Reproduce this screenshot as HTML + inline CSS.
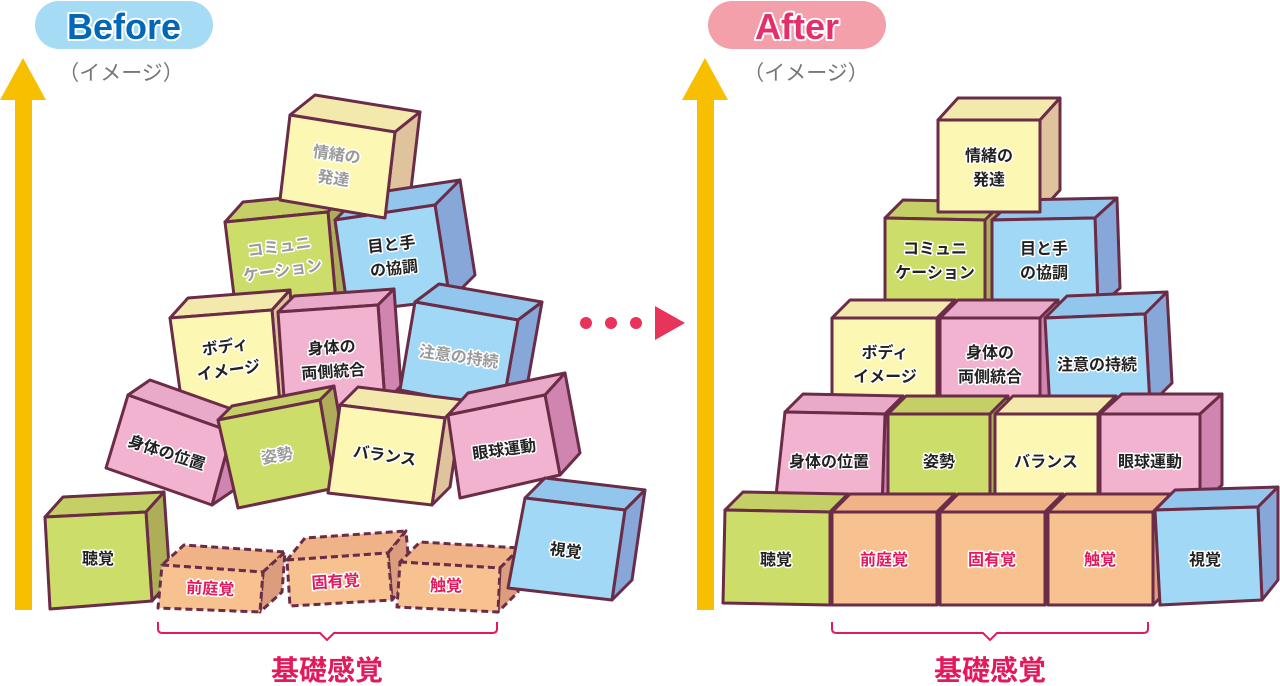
<!DOCTYPE html>
<html><head><meta charset="utf-8"><style>
html,body{margin:0;padding:0;background:#fff;width:1280px;height:686px;overflow:hidden}
svg{display:block}
polygon{stroke:#6b2c47;stroke-width:3;stroke-linejoin:round}
.y .f{fill:#fdf7b4}.y .t{fill:#f3e9ad}.y .r{fill:#dfc39c}
.g .f{fill:#cddd69}.g .t{fill:#c4d065}.g .r{fill:#aeae58}
.b .f{fill:#a0d8f5}.b .t{fill:#92c6ec}.b .r{fill:#86a7d8}
.p .f{fill:#f2b3d0}.p .t{fill:#e9a9c8}.p .r{fill:#cf85b0}
.o .f{fill:#f7c290}.o .t{fill:#f0b388}.o .r{fill:#dc9c7e}
.d polygon{stroke-dasharray:7 4}
text{font-family:"Liberation Sans","Noto Sans CJK JP",sans-serif;font-weight:bold;text-anchor:middle;paint-order:stroke;stroke:#fff;stroke-width:3px;stroke-linejoin:round}
.l{font-size:16px;fill:#222}
.gr{fill:#9a9a9a}
.rd{fill:#e2195a}
</style></head><body>
<svg width="1280" height="686" viewBox="0 0 1280 686" xmlns="http://www.w3.org/2000/svg">
<!-- headers -->
<rect x="35" y="1" width="178" height="48" rx="24" fill="#a6dbf5"/>
<text x="124" y="39" style="font-size:36px;fill:#0068b7;stroke-width:4px">Before</text>
<text x="121" y="80" style="font-size:21px;fill:#777;stroke:none;font-weight:normal">（イメージ）</text>
<rect x="708" y="1" width="178" height="48" rx="24" fill="#f3a0aa"/>
<text x="797" y="39" style="font-size:36px;fill:#e4306a;stroke-width:4px">After</text>
<text x="806" y="80" style="font-size:21px;fill:#777;stroke:none;font-weight:normal">（イメージ）</text>
<!-- arrows -->
<rect x="15" y="95" width="17" height="515" fill="#f8bf00"/>
<polygon points="23,58 0,100 46,100" fill="#f8bf00" style="stroke:none"/>
<rect x="697" y="95" width="17" height="515" fill="#f8bf00"/>
<polygon points="705,58 682,100 728,100" fill="#f8bf00" style="stroke:none"/>
<circle cx="586" cy="323" r="6" fill="#e8335a"/><circle cx="611" cy="323" r="6" fill="#e8335a"/><circle cx="636" cy="323" r="6" fill="#e8335a"/>
<polygon points="655,306 685,323 655,340" fill="#e8335a" style="stroke:none"/>

<!-- BEFORE cubes -->
<g class="y"><polygon class="t" points="290,115 395,132 420,112 315,95"/><polygon class="r" points="395,132 420,112 410,198 385,218"/></g>
<g class="g"><polygon class="t" points="225,222 328,212 346,192 243,202"/><polygon class="r" points="328,212 346,192 354,282 336,302"/><polygon class="f" points="225,222 328,212 336,302 236,312"/></g>
<g class="b"><polygon class="t" points="335,220 435,205 460,180 360,195"/><polygon class="r" points="435,205 460,180 475,275 450,300"/><polygon class="f" points="335,220 435,205 450,300 348,312"/></g>
<g class="y"><polygon class="f" points="290,115 395,132 385,218 280,200"/></g>
<g class="y"><polygon class="t" points="170,318 272,310 290,290 188,298"/><polygon class="r" points="272,310 290,290 298,385 280,405"/><polygon class="f" points="170,318 272,310 280,405 183,412"/></g>
<g class="p"><polygon class="t" points="278,312 378,305 394,289 294,296"/><polygon class="r" points="378,305 394,289 401,386 385,402"/><polygon class="f" points="278,312 378,305 385,402 285,412"/></g>
<g class="b"><polygon class="t" points="415,302 518,320 542,302 439,284"/><polygon class="r" points="518,320 542,302 526,392 502,410"/><polygon class="f" points="415,302 518,320 502,410 400,390"/></g>
<g class="p"><polygon class="t" points="128,395 232,432 254,417 150,380"/><polygon class="r" points="232,432 254,417 234,490 212,505"/><polygon class="f" points="128,395 232,432 212,505 106,468"/></g>
<g class="g"><polygon class="t" points="218,420 320,400 334,386 232,406"/><polygon class="r" points="320,400 334,386 349,474 335,488"/><polygon class="f" points="218,420 320,400 335,488 238,508"/></g>
<g class="y"><polygon class="t" points="340,405 445,418 463,400 358,387"/><polygon class="r" points="445,418 463,400 450,487 432,505"/><polygon class="f" points="340,405 445,418 432,505 328,493"/></g>
<g class="p"><polygon class="t" points="448,415 545,395 565,373 468,393"/><polygon class="r" points="545,395 565,373 580,453 560,475"/><polygon class="f" points="448,415 545,395 560,475 460,498"/></g>
<g class="g"><polygon class="t" points="45,517 146,512 164,492 63,497"/><polygon class="r" points="146,512 164,492 170,581 152,601"/><polygon class="f" points="45,517 146,512 152,601 50,609"/></g>
<g class="o d"><polygon class="t" points="162,565 263,572 285,552 184,545"/><polygon class="r" points="263,572 285,552 282,592 260,612"/><polygon class="f" points="162,565 263,572 260,612 158,608"/></g>
<g class="o d"><polygon class="t" points="287,560 388,553 406,531 305,538"/><polygon class="r" points="388,553 406,531 410,578 392,600"/><polygon class="f" points="287,560 388,553 392,600 290,606"/></g>
<g class="o d"><polygon class="t" points="400,562 500,568 520,548 420,542"/><polygon class="r" points="500,568 520,548 518,592 498,612"/><polygon class="f" points="400,562 500,568 498,612 397,607"/></g>
<g class="b"><polygon class="t" points="525,498 625,510 645,490 545,478"/><polygon class="r" points="625,510 645,490 632,580 612,600"/><polygon class="f" points="525,498 625,510 612,600 508,588"/></g>

<!-- BEFORE labels -->
<text class="l gr" transform="translate(336,160) rotate(8)">情緒の<tspan x="0" dy="24">発達</tspan></text>
<text class="l gr" transform="translate(280,252) rotate(-8)">コミュニ<tspan x="0" dy="24">ケーション</tspan></text>
<text class="l" transform="translate(392,250) rotate(-6)">目と手<tspan x="0" dy="24">の協調</tspan></text>
<text class="l" transform="translate(226,352) rotate(-8)">ボディ<tspan x="0" dy="24">イメージ</tspan></text>
<text class="l" transform="translate(332,353) rotate(-4)">身体の<tspan x="0" dy="24">両側統合</tspan></text>
<text class="l gr" transform="translate(458,362) rotate(8)">注意の持続</text>
<text class="l" transform="translate(165,458) rotate(18)">身体の位置</text>
<text class="l gr" transform="translate(278,461) rotate(-10)">姿勢</text>
<text class="l" transform="translate(384,461) rotate(8)">バランス</text>
<text class="l" transform="translate(505,455) rotate(-8)">眼球運動</text>
<text class="l" x="98" y="564">聴覚</text>
<text class="l rd" transform="translate(210,594) rotate(3)">前庭覚</text>
<text class="l rd" transform="translate(336,587) rotate(-4)">固有覚</text>
<text class="l rd" x="446" y="591">触覚</text>
<text class="l" transform="translate(565,556) rotate(7)">視覚</text>

<!-- AFTER cubes (back to front) -->
<g class="y"><polygon class="t" points="938,120 1040,120 1060,98 958,98"/><polygon class="r" points="1040,120 1060,98 1060,190 1040,212"/></g>
<g class="g"><polygon class="t" points="885,218 985,220 1003,202 903,200"/><polygon class="r" points="985,220 1003,202 1003,292 985,310"/><polygon class="f" points="885,218 985,220 985,310 885,310"/></g>
<g class="b"><polygon class="t" points="992,220 1095,218 1117,198 1014,200"/><polygon class="r" points="1095,218 1117,198 1120,288 1098,308"/><polygon class="f" points="992,220 1095,218 1098,308 992,310"/></g>
<g class="y"><polygon class="f" points="938,120 1040,120 1040,212 938,212"/></g>
<g class="y"><polygon class="t" points="832,318 937,318 955,300 850,300"/><polygon class="r" points="937,318 955,300 955,392 937,410"/><polygon class="f" points="832,318 937,318 937,410 832,410"/></g>
<g class="p"><polygon class="t" points="940,318 1040,318 1058,300 958,300"/><polygon class="r" points="1040,318 1058,300 1058,392 1040,410"/><polygon class="f" points="940,318 1040,318 1040,410 940,410"/></g>
<g class="b"><polygon class="t" points="1045,318 1145,314 1167,292 1067,296"/><polygon class="r" points="1145,314 1167,292 1172,383 1150,405"/><polygon class="f" points="1045,318 1145,314 1150,405 1050,410"/></g>
<g class="p"><polygon class="t" points="785,412 885,414 903,396 803,394"/><polygon class="r" points="885,414 903,396 900,490 882,508"/><polygon class="f" points="785,412 885,414 882,508 775,505"/></g>
<g class="g"><polygon class="t" points="888,414 990,414 1008,396 906,396"/><polygon class="r" points="990,414 1008,396 1008,487 990,505"/><polygon class="f" points="888,414 990,414 990,505 888,505"/></g>
<g class="y"><polygon class="t" points="995,414 1098,414 1116,396 1013,396"/><polygon class="r" points="1098,414 1116,396 1116,487 1098,505"/><polygon class="f" points="995,414 1098,414 1098,505 995,505"/></g>
<g class="p"><polygon class="t" points="1100,414 1200,414 1222,394 1122,394"/><polygon class="r" points="1200,414 1222,394 1222,485 1200,505"/><polygon class="f" points="1100,414 1200,414 1200,505 1100,505"/></g>
<g class="g"><polygon class="t" points="725,510 830,512 848,494 743,492"/><polygon class="r" points="830,512 848,494 848,587 830,605"/><polygon class="f" points="725,510 830,512 830,605 723,603"/></g>
<g class="o"><polygon class="t" points="832,512 937,512 955,494 850,494"/><polygon class="r" points="937,512 955,494 955,587 937,605"/><polygon class="f" points="832,512 937,512 937,605 832,605"/></g>
<g class="o"><polygon class="t" points="940,512 1045,512 1063,494 958,494"/><polygon class="r" points="1045,512 1063,494 1063,587 1045,605"/><polygon class="f" points="940,512 1045,512 1045,605 940,605"/></g>
<g class="o"><polygon class="t" points="1048,512 1153,512 1171,494 1066,494"/><polygon class="r" points="1153,512 1171,494 1171,587 1153,605"/><polygon class="f" points="1048,512 1153,512 1153,605 1048,605"/></g>
<g class="b"><polygon class="t" points="1155,510 1258,507 1278,487 1175,490"/><polygon class="r" points="1258,507 1278,487 1278,580 1262,600"/><polygon class="f" points="1155,510 1258,507 1262,600 1160,605"/></g>

<!-- AFTER labels -->
<text class="l" x="989" y="161">情緒の<tspan x="989" dy="24">発達</tspan></text>
<text class="l" x="935" y="254">コミュニ<tspan x="935" dy="24">ケーション</tspan></text>
<text class="l" x="1044" y="254">目と手<tspan x="1044" dy="24">の協調</tspan></text>
<text class="l" x="885" y="358">ボディ<tspan x="885" dy="24">イメージ</tspan></text>
<text class="l" x="990" y="358">身体の<tspan x="990" dy="24">両側統合</tspan></text>
<text class="l" x="1097" y="370">注意の持続</text>
<text class="l" x="829" y="467">身体の位置</text>
<text class="l" x="939" y="467">姿勢</text>
<text class="l" x="1046" y="467">バランス</text>
<text class="l" x="1150" y="467">眼球運動</text>
<text class="l" x="776" y="565">聴覚</text>
<text class="l rd" x="884" y="565">前庭覚</text>
<text class="l rd" x="992" y="565">固有覚</text>
<text class="l rd" x="1100" y="565">触覚</text>
<text class="l" x="1205" y="565">視覚</text>

<!-- braces -->
<path d="M158,622 V629 Q158,633 163,633 H320 L327,640 L334,633 H492 Q497,633 497,629 V622" fill="none" stroke="#e2195a" stroke-width="2"/>
<text x="327" y="680" style="font-size:28px;fill:#e2195a;stroke:none">基礎感覚</text>
<path d="M832,622 V629 Q832,633 837,633 H983 L990,640 L997,633 H1143 Q1148,633 1148,629 V622" fill="none" stroke="#e2195a" stroke-width="2"/>
<text x="990" y="680" style="font-size:28px;fill:#e2195a;stroke:none">基礎感覚</text>
</svg>
</body></html>
